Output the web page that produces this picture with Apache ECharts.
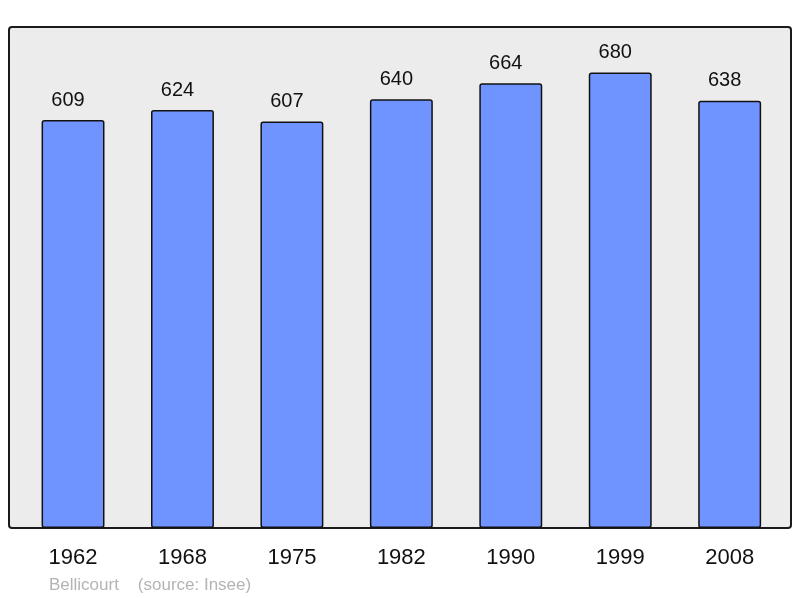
<!DOCTYPE html>
<html><head><meta charset="utf-8">
<script src="https://cdn.jsdelivr.net/npm/echarts@6/dist/echarts.min.js"></script>
<style>html,body{margin:0;padding:0;background:#fff}#c{width:800px;height:598px}</style>
</head><body><div id="c"></div>
<script>
const years = ['1962','1968','1975','1982','1990','1999','2008'];
const population = [609, 624, 607, 640, 664, 680, 638];
const footnote = 'Bellicourt    (source: Insee)';

const chart = echarts.init(document.getElementById('c'), null, {renderer: 'canvas'});
chart.setOption({
  animation: false,
  textStyle: {fontFamily: 'Liberation Sans, Arial, sans-serif'},
  grid: {left: 18.3, right: 15.6, top: 27, bottom: 70, containLabel: false},
  graphic: [
    {type: 'rect', z: -10, shape: {x: 9, y: 27, width: 782, height: 501, r: 3},
     style: {fill: '#ececec', stroke: '#1a1a1a', lineWidth: 2}},
    {type: 'text', left: 49, top: 577, style: {text: footnote, fill: '#b4b4b4', fontSize: 17, fontFamily: 'Liberation Sans, Arial, sans-serif'}}
  ],
  xAxis: {
    type: 'category', data: years,
    axisLine: {show: false}, axisTick: {show: false},
    axisLabel: {color: '#111', fontSize: 22, margin: 19}
  },
  yAxis: {type: 'value', min: 0, max: 748, show: false, splitLine: {show: false}},
  series: [{
    type: 'bar', data: population, barWidth: '57.5%',
    itemStyle: {color: '#7094ff', borderColor: '#111', borderWidth: 1.5, borderRadius: 2},
    label: {show: true, position: 'top', distance: 10, offset: [-5, 0], color: '#111', fontSize: 20}
  }]
});
</script></body></html>
